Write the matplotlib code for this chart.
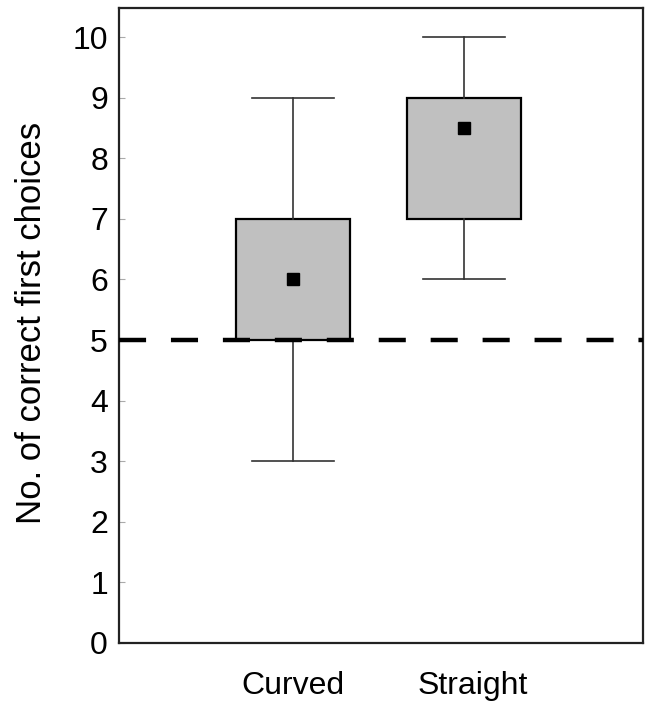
import matplotlib
matplotlib.use('Agg')
import matplotlib.pyplot as plt

plt.rcParams['font.family'] = ['Liberation Sans', 'DejaVu Sans']
plt.rcParams['lines.scale_dashes'] = False

groups = ['Curved', 'Straight']
whisker_low = [3, 6]
q1 = [5, 7]
q3 = [7, 9]
whisker_high = [9, 10]
means = [6, 8.5]
chance_level = 5

stats = []
for i, g in enumerate(groups):
    stats.append({'label': g, 'whislo': whisker_low[i], 'q1': q1[i], 'med': means[i],
                  'q3': q3[i], 'whishi': whisker_high[i], 'mean': means[i], 'fliers': []})

fig = plt.figure(figsize=(6.53, 7.06), dpi=100)
ax = fig.add_axes([119/653, 1 - 643/706, 524/653, 635/706])

ax.bxp(stats, positions=[1, 2], widths=0.67, capwidths=0.48, patch_artist=True,
       showmeans=True, showfliers=False,
       boxprops=dict(facecolor='#c0c0c0', edgecolor='black', linewidth=1.6),
       whiskerprops=dict(color='#333333', linewidth=1.2),
       capprops=dict(color='#333333', linewidth=1.2),
       medianprops=dict(linewidth=0),
       meanprops=dict(marker='s', markerfacecolor='black', markeredgecolor='black',
                      markersize=8))

# chance level
ax.axhline(chance_level, color='black', linewidth=3.2, dashes=(19.5, 17.9), zorder=5)

ax.set_xlim(-0.02, 3.05)
ax.set_ylim(0, 10.48)
ax.set_yticks(range(0, 11))
ax.tick_params(axis='y', direction='in', length=4, color='#aaaaaa', labelsize=23, pad=8)
ax.tick_params(axis='x', length=0, labelsize=23, pad=20)
ax.set_xticks([1, 2.05])
ax.set_xticklabels(groups)
for s in ax.spines.values():
    s.set_linewidth(1.6)
    s.set_color('#222222')

fig.text(32/653, 1 - 323/706, 'No. of correct first choices', rotation=90,
         ha='center', va='center', fontsize=25)

fig.savefig('out.png', dpi=100)
